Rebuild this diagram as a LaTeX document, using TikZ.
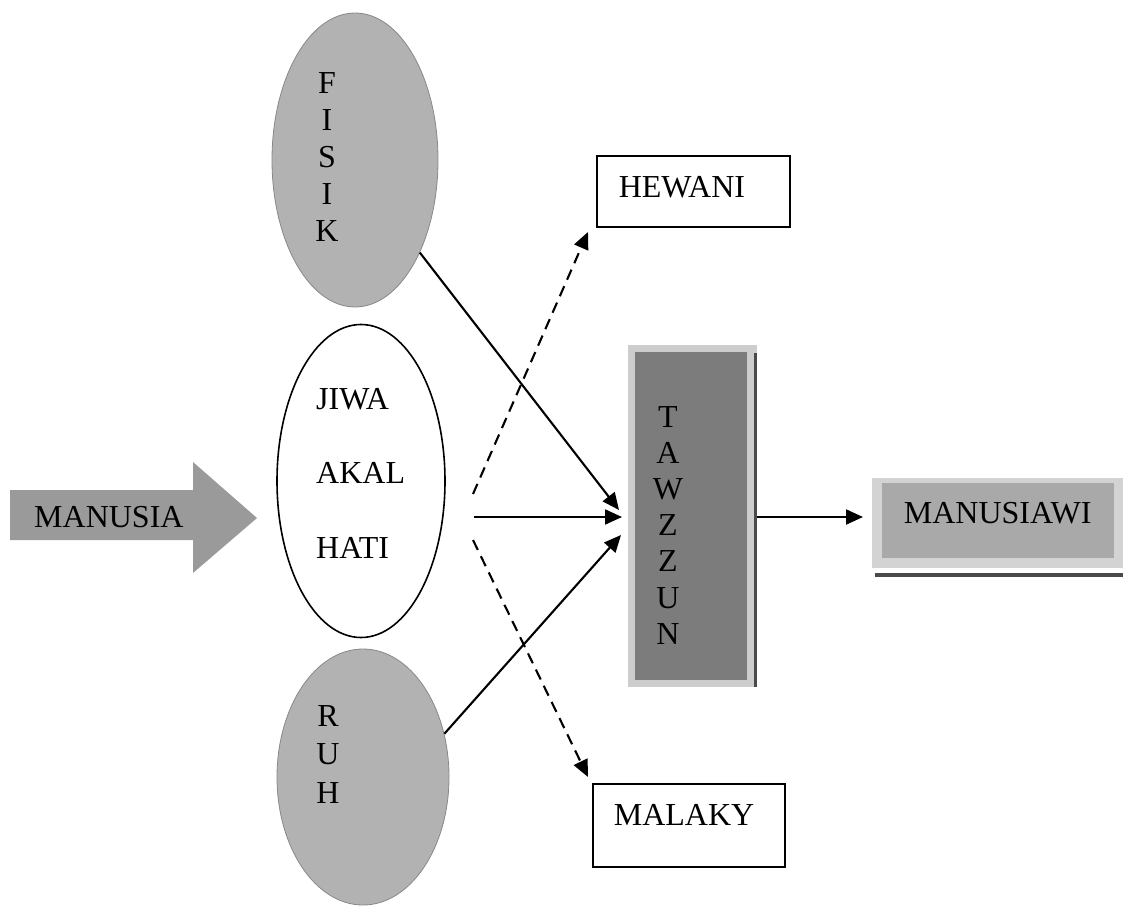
\documentclass[tikz,border=0pt]{standalone}
\usepackage{fontspec}
\setmainfont{Liberation Serif}
\usetikzlibrary{arrows.meta,shapes.geometric,calc}
\definecolor{ellgray}{HTML}{B2B2B2}
\definecolor{elledge}{HTML}{888888}
\definecolor{tawzlight}{HTML}{CDCDCD}
\definecolor{tawzdark}{HTML}{7C7C7C}
\definecolor{manlight}{HTML}{D3D3D3}
\definecolor{manmid}{HTML}{A9A9A9}
\definecolor{arrowgray}{HTML}{9A9A9A}
\definecolor{shadowline}{HTML}{4A4A4A}
\begin{document}
\begin{tikzpicture}[x=1pt,y=-1pt,
  bigfont/.style={font=\fontsize{32}{37}\selectfont},
  grayell/.style={ellipse, fill=ellgray, draw=elledge, line width=0.8pt, inner sep=0pt},
  whiteell/.style={ellipse, fill=white, draw=black, line width=1.6pt, inner sep=0pt},
  plainbox/.style={draw=black, line width=1.6pt, inner ysep=0pt, align=left, bigfont},
  stack/.style={align=center, inner sep=0pt, anchor=north},
  link/.style={line width=2.1pt, -{Triangle[length=17pt,width=15pt]}},
  dlink/.style={link, dash pattern=on 11pt off 7pt},
]
\useasboundingbox (0,0) rectangle (1124,907);

% MANUSIA block arrow
\fill[arrowgray] (10,490) -- (193,490) -- (193,462) -- (257,518) -- (193,573) -- (193,540) -- (10,540) -- cycle;
\node[bigfont, inner sep=0pt, anchor=base west] (manusia) at (34,527) {MANUSIA};

% ellipses
\node[grayell, minimum width=166, minimum height=294] (fisik) at (355,160) {};
\node[font=\fontsize{32}{37}\selectfont, stack] (fisiktext) at (327,72) {F\\I\\S\\I\\K};

\node[whiteell, minimum width=168, minimum height=313] (jiwa) at (361,481) {};
\node[font=\fontsize{32}{74.5}\selectfont, align=left, inner sep=0pt, anchor=north west] (jiwatext) at (316,388) {JIWA\\AKAL\\HATI};

\node[grayell, minimum width=172, minimum height=256] (ruh) at (363,777) {};
\node[font=\fontsize{32}{38.5}\selectfont, stack] (ruhtext) at (328,705) {R\\U\\H};

% TAWZZUN
\node[fill=tawzlight, minimum width=129, minimum height=342, inner sep=0pt, anchor=north west,
  path picture={\fill[tawzdark] ($(path picture bounding box.north west)+(7,7)$) rectangle ($(path picture bounding box.south east)+(-10,-7)$);}]
  (tawz) at (628,345) {};
\draw[shadowline, line width=2.2pt] ($(tawz.north east)+(-2,8)$) -- ($(tawz.south east)+(-2,0)$);
\node[font=\fontsize{32}{36.2}\selectfont, stack] (tawztext) at (668,406) {T\\A\\W\\Z\\Z\\U\\N};

% MANUSIAWI
\node[bigfont, fill=manlight, minimum width=251, inner xsep=0pt, inner ysep=0pt, text height=45, text depth=45, anchor=north west,
  path picture={\fill[manmid] ($(path picture bounding box.north west)+(10,5)$) rectangle ($(path picture bounding box.south east)+(-9,-10)$);}]
  (mw) at (872,478) {MANUSIAWI};
\draw[shadowline, line width=4pt] ($(mw.south west)+(3,7)$) -- ($(mw.south east)+(0,7)$);

% plain boxes
\node[plainbox, text width=149, inner xsep=22, text height=42, text depth=29, anchor=north west] (hewani) at (596,155) {HEWANI};
\node[plainbox, text width=150, inner xsep=21, text height=42, text depth=41, anchor=north west] (malaky) at (592,783) {MALAKY};

% connector end points
\coordinate (jmid) at (474,517);
\coordinate (jup) at (473,494);
\coordinate (jdown) at (473,540);
\coordinate (tipf) at (619,510);
\coordinate (tipj) at (622,517);
\coordinate (tipr) at (621,535);
\coordinate (tiph) at (588,232);
\coordinate (tipm) at (588,777);
\coordinate (tipw) at (863,517);

% connectors
\draw[link] (fisik.-55) -- (tipf);
\draw[link] (jmid) -- (tipj);
\draw[link] (ruh.28) -- (tipr);
\draw[dlink] (jup) -- (tiph);
\draw[dlink] (jdown) -- (tipm);
\draw[link] (tawz.east |- tipw) -- (tipw);
\end{tikzpicture}
\end{document}
